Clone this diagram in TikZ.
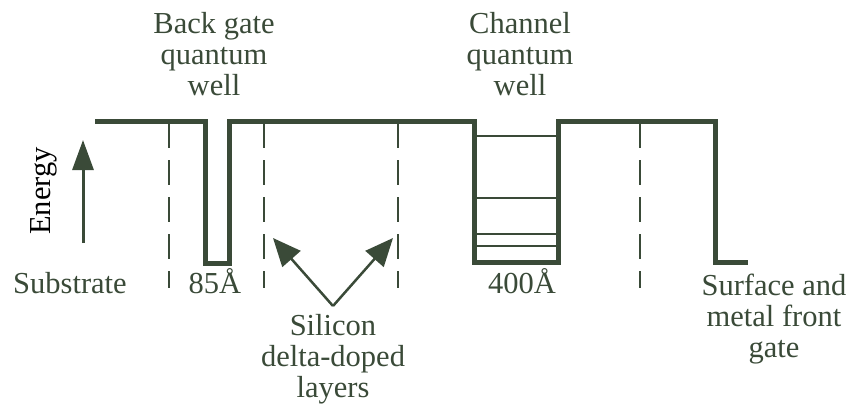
\documentclass[tikz,border=0pt]{standalone}
\usepackage{fontspec}
\setmainfont{Liberation Serif}
\usepackage{tikz}
\usetikzlibrary{arrows.meta, positioning, calc}

\definecolor{wellgreen}{RGB}{58,74,56}

\begin{document}
\begin{tikzpicture}[x=1pt, y=-1pt,
        lbl/.style={text=wellgreen, inner sep=0, align=center,
                    font=\fontsize{30.5}{31}\selectfont},
        profile/.style={wellgreen, line width=5pt, line join=miter},
        level/.style={wellgreen, line width=2.5pt},
        dopedline/.style={wellgreen, line width=2pt, dash pattern=on 25pt off 12pt},
        pointer/.style={wellgreen, line width=2.5pt,
                        -{Triangle[length=28pt, width=24pt]}}]
                \useasboundingbox (0,0) rectangle (852,404);

                % Профиль зоны
                \draw[profile] (95,121) -- (205,121) -- (205,263) -- (229,263) -- (229,121)
                    -- (474,121) -- (474,262) -- (558,262) -- (558,121)
                    -- (715,121) -- (715,262) -- (748,262);

                % Уровни в канале
                \foreach \y in {136, 198, 234, 246}
                    \draw[level] (474,\y) -- (558,\y);

                % Дельта-слои
                \foreach \x in {169, 264, 398, 640}
                    \draw[dopedline] (\x,123) -- (\x,288);

                % Ось энергии
                \coordinate (ebot) at (83,243);
                \coordinate (etop) at (83,140);
                \draw[wellgreen, line width=3pt, -{Triangle[length=30pt, width=21pt]}] (ebot) -- (etop);
                \node[lbl, text=black, rotate=90, anchor=base] (energy) at (50,191) {Energy};

                % Подписи
                \node[lbl, anchor=north] (backgate) at (214,12) {Back gate\\quantum\\well};
                \node[lbl, anchor=north] (channel) at (520,12) {Channel\\quantum\\well};
                \node[lbl, anchor=base] (substrate) at (70,293) {Substrate};
                \node[lbl, anchor=base] (narrow) at (215,293) {85Å};
                \node[lbl, anchor=base] (wide) at (522,293) {400Å};
                \node[lbl, anchor=north] (surface) at (774,274) {Surface and\\metal front\\gate};
                \node[lbl, anchor=north] (silicon) at (333,314) {Silicon\\delta-doped\\layers};

                % Стрелки к слоям
                \coordinate (apex) at (333,306);
                \coordinate (tipL) at (273,238);
                \coordinate (tipR) at (393,238);
                \draw[pointer] (apex) -- (tipL);
                \draw[pointer] (apex) -- (tipR);
            \end{tikzpicture}
\end{document}
